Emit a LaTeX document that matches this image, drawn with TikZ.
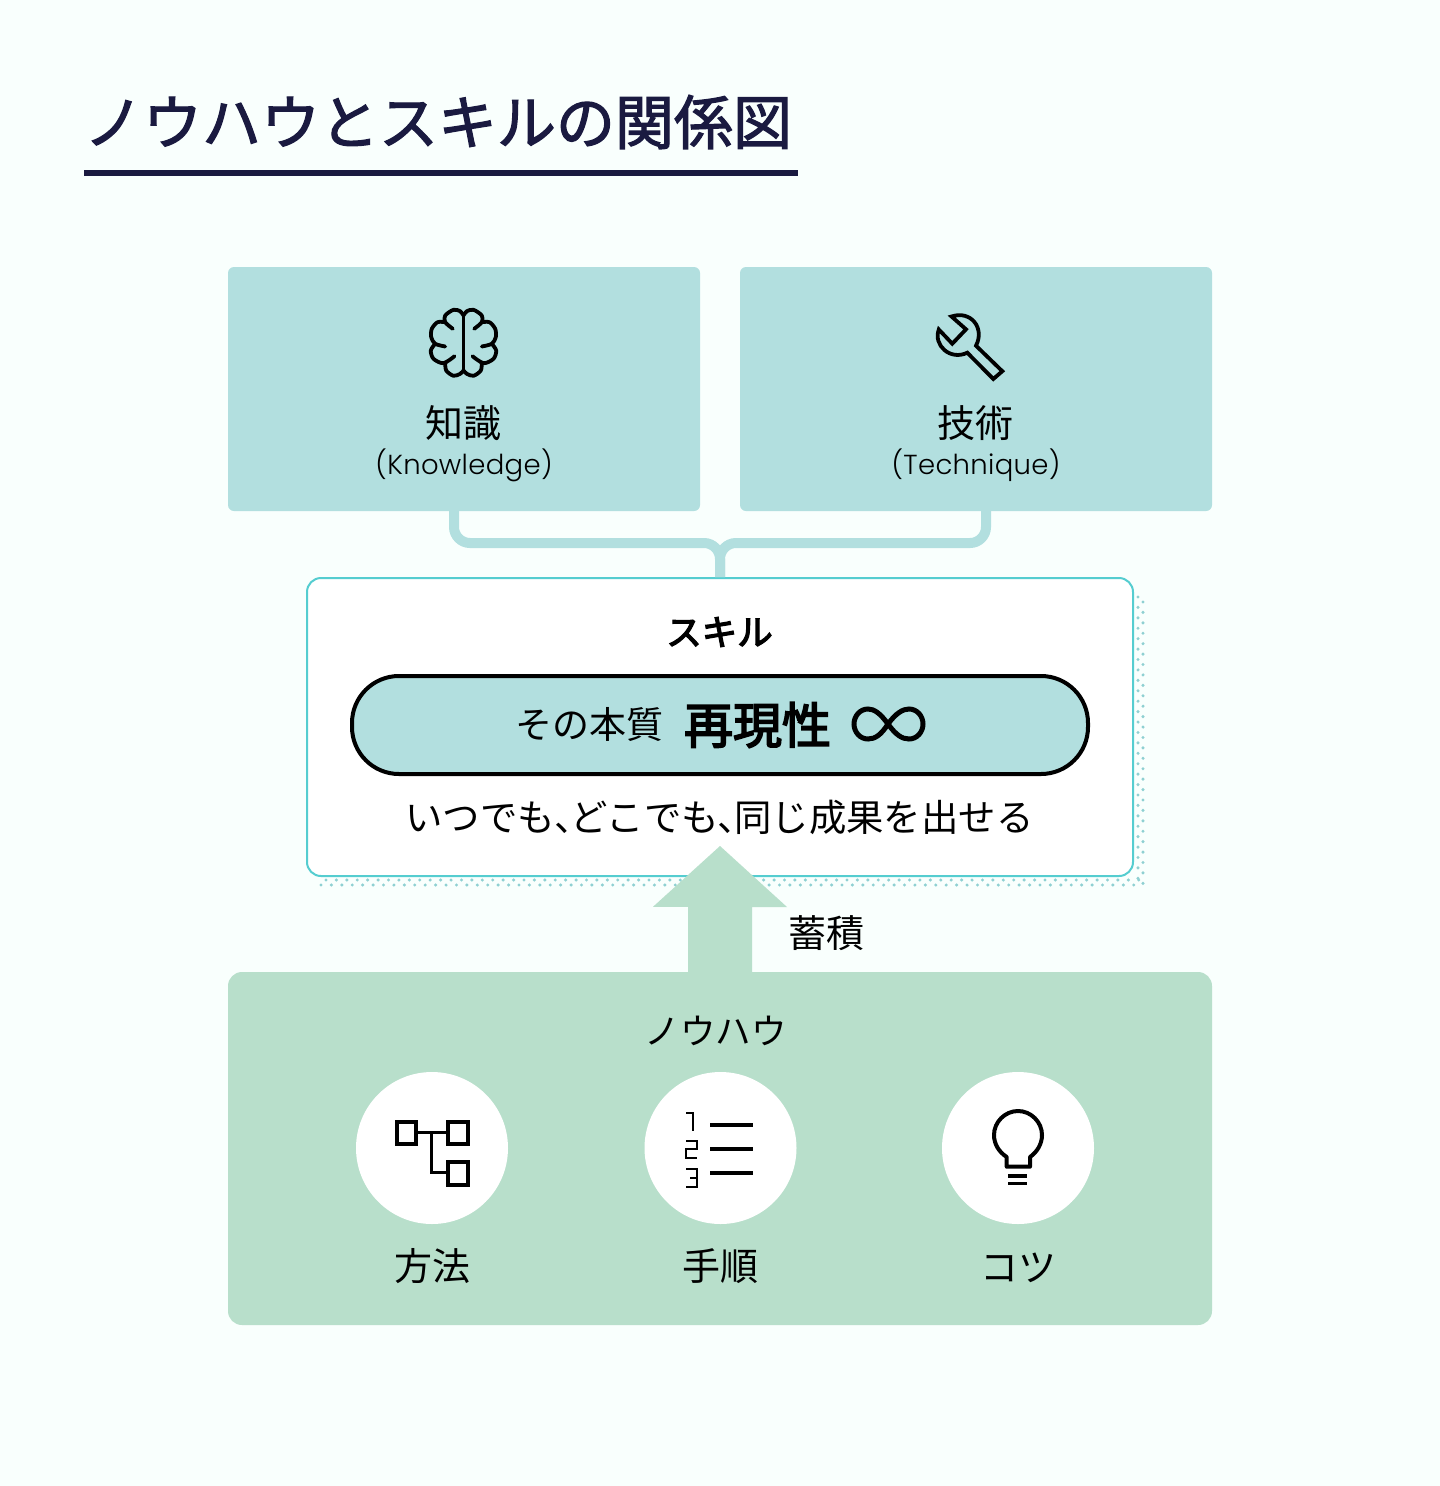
\documentclass[tikz,border=0pt]{standalone}
\usepackage{fontspec}
\setmainfont{Noto Sans CJK JP}
\newfontfamily\latinfont[LetterSpace=1.2]{Poppins Light}
\newfontfamily\titlefont[FakeBold=2]{Noto Sans CJK JP}
\newfontfamily\strongfont[FakeBold=3.5]{Noto Sans CJK JP}
\usepackage{tikz}
\usetikzlibrary{positioning}
\definecolor{PageTint}{HTML}{F9FFFD}
\definecolor{TitleInk}{HTML}{1A1A40}
\definecolor{PaleTeal}{HTML}{B2DFDF}
\definecolor{PaleMint}{HTML}{B8DFCB}
\definecolor{EdgeTeal}{HTML}{55CDD0}
\definecolor{DotTeal}{HTML}{8FD0D2}
\newcommand{\jpfont}[1]{\fontsize{#1}{#1}\selectfont}
\begin{document}
\begin{tikzpicture}[x=1pt,y=-1pt,>=stealth]
  \tikzstyle{panel}=[fill=PaleTeal,rounded corners=6pt,inner sep=0pt,minimum width=472pt,minimum height=244pt]
  \tikzstyle{word}=[inner sep=0pt,font=\jpfont{38}]
  \tikzstyle{gloss}=[inner sep=0pt,font=\latinfont\jpfont{27.5}]
  \tikzstyle{link}=[draw=PaleTeal,line width=10pt,rounded corners=16pt]
  \tikzstyle{disc}=[circle,fill=white,inner sep=0pt,minimum size=152pt]
  \tikzstyle{thinline}=[line width=4pt]
  \fill[PageTint] (0,0) rectangle (1440,1486);
  \useasboundingbox (0,0) rectangle (1440,1486);
  % heading
  \node[inner sep=0pt,text=TitleInk,font=\titlefont\jpfont{59}] (title) at (438,122) {ノウハウとスキルの関係図};
  \coordinate (ruleA) at (84,173);
  \coordinate (ruleB) at (798,173);
  \draw[TitleInk,line width=6pt] (ruleA)--(ruleB);
  % dotted shadow
  \foreach \i in {0,...,78} {
    \fill[DotTeal] (326+\i*10.42,880) circle (1.7);
    \fill[DotTeal] (321+\i*10.42,885) circle (1.7);
  }
  \foreach \i in {0,...,27} {
    \fill[DotTeal] (1138,597+\i*10.42) circle (1.7);
    \fill[DotTeal] (1143,602+\i*10.42) circle (1.7);
  }
  % upper boxes
  \node[panel] (knowledge) at (464,389) {};
  \node[panel] (technique) at (976,389) {};
  \node[draw=EdgeTeal,line width=2pt,fill=white,rounded corners=14pt,inner sep=0pt,minimum width=826pt,minimum height=298pt] (skill) at (720,727) {};
  \coordinate (joint) at (720,543);
  \draw[link] ([xshift=-10pt]knowledge.south) |- (joint) -- (skill.north);
  \draw[link] ([xshift=10pt]technique.south) |- (joint) -- (skill.north);
  \node[word] (knowledgeword) at (463.5,423) {知識};
  \node[gloss] (knowledgegloss) at (464,465.5) {(Knowledge)};
  \node[word] (techniqueword) at (975.5,423) {技術};
  \node[gloss] (techniquegloss) at (976,465) {(Technique)};
  % brain
  \begin{scope}[shift={(463.5,342.5)},line width=3.8pt,line cap=round,line join=round]
    \draw (0,-27)--(0,28);
    \foreach \s in {1,-1} {
      \begin{scope}[xscale=\s]
        \draw plot[smooth] coordinates {(-10.7,-13.7) (-18.3,-20.3) (-18.3,-27) (-10,-32.7) (-3.3,-31.3) (0,-27)};
        \draw plot[smooth] coordinates {(-18.3,-20.3) (-26,-20.3) (-31.7,-13.7) (-32.3,-5.3) (-28.3,1.3) (-18.3,4)};
        \draw plot[smooth] coordinates {(-28.3,1.3) (-32.7,8) (-30,16.3) (-20,20.7) (-9,13.7)};
        \draw plot[smooth] coordinates {(-18.3,19.7) (-17.3,28) (-10,33.3) (-3.3,31.3) (0,28)};
      \end{scope}
    }
  \end{scope}
  % wrench
  \draw[line width=3.8pt,line join=miter] (951.5,316.5)--(966,329.3)--(952.3,343.7)--(938.8,329.5)
    .. controls (933,345) and (950,361) .. (967.3,352.7)--(993.3,379)--(1002.3,371.2)--(976,345.7)
    .. controls (985,328) and (971,310) .. (951.5,316.5)--cycle;
  % skill box
  \node[inner sep=0pt,font=\strongfont\jpfont{35.5}] (skillword) at (719.5,632) {スキル};
  \node[draw=black,line width=4pt,fill=PaleTeal,rounded corners=47pt,inner sep=0pt,minimum width=736pt,minimum height=98pt] (essence) at (720,725) {};
  \node[inner sep=0pt,font=\jpfont{37}] (essenceword) at (589.5,725) {その本質};
  \node[inner sep=0pt,font=\strongfont\jpfont{49}] (repro) at (757.5,725) {再現性};
  \draw[line width=5pt] (888,724) .. controls (896,713) and (903,709) .. (909,709)
    .. controls (917,709) and (923,716) .. (923,724) .. controls (923,732) and (917,739) .. (909,739)
    .. controls (902,739) and (896,735) .. (888,724) .. controls (880,713) and (874,709) .. (868,709)
    .. controls (860,709) and (854,716) .. (854,724) .. controls (854,732) and (860,739) .. (868,739)
    .. controls (875,739) and (881,735) .. (888,724)--cycle;
  \node[word,font=\jpfont{37.4}] (promise) at (719.5,817.5) {いつでも、\kern-.56em どこでも、\kern-.56em 同じ成果を出せる};
  % lower box and arrow
  \node[fill=PaleMint,rounded corners=14pt,inner sep=0pt,minimum width=984pt,minimum height=353pt] (knowhow) at (720,1148.5) {};
  \fill[PaleMint] (knowhow.north) ++(-32,1) -- ++(0,-66) -- ++(-35,0) -- (720,846) -- (787,907) -- ++(-35,0) -- ++(0,66) -- cycle;
  \node[word] (stock) at (826,933) {蓄積};
  \node[word,font=\jpfont{35.5}] (knowhowword) at (715.5,1031) {ノウハウ};
  \node[disc] (method) at (432,1148) {};
  \node[disc] (steps) at (720.5,1148) {};
  \node[disc] (knack) at (1018,1148) {};
  \node[word,below=24pt of method] (methodword) {方法};
  \node[word,below=24pt of steps] (stepsword) {手順};
  \node[word,below=29pt of knack] (knackword) {コツ};
  % flow icon
  \draw[thinline] (396.5,1121.5) rectangle (415.5,1143.5);
  \draw[thinline] (448,1121.5) rectangle (468,1143.5);
  \draw[thinline] (448,1161.5) rectangle (468,1184.5);
  \draw[line width=3pt] (415.5,1132.5)--(448,1132.5);
  \draw[line width=3pt] (431.7,1132.5)--(431.7,1172.7)--(448,1172.7);
  % numbered list icon
  \foreach \y in {1125.3,1149.3,1173.3} \draw[thinline] (710,\y)--(753.3,\y);
  \draw[line width=1.8pt] (686,1112.7)--(693,1112.7)--(693,1130.7);
  \draw[line width=1.8pt] (686,1140.7)--(696.7,1140.7)--(696.7,1149.3)--(686,1149.3)--(686,1158.3)--(696.7,1158.3);
  \draw[line width=1.8pt] (686,1168.7)--(696.7,1168.7)--(696.7,1186.7)--(686,1186.7);
  \draw[line width=1.8pt] (690,1178)--(696.7,1178);
  % bulb icon
  \draw[thinline,line join=round] (1006.7,1166.7)--(1006.7,1157) .. controls (999,1152) and (994,1144) .. (994,1135)
    .. controls (994,1122) and (1005,1111) .. (1018,1111) .. controls (1031,1111) and (1042,1122) .. (1042,1135)
    .. controls (1042,1144) and (1037,1152) .. (1030,1157)--(1030,1166.7)--cycle;
  \draw[line width=3.2pt] (1008.3,1176)--(1027.3,1176);
  \draw[line width=3.2pt] (1008.3,1183.3)--(1027.3,1183.3);
\end{tikzpicture}
\end{document}
